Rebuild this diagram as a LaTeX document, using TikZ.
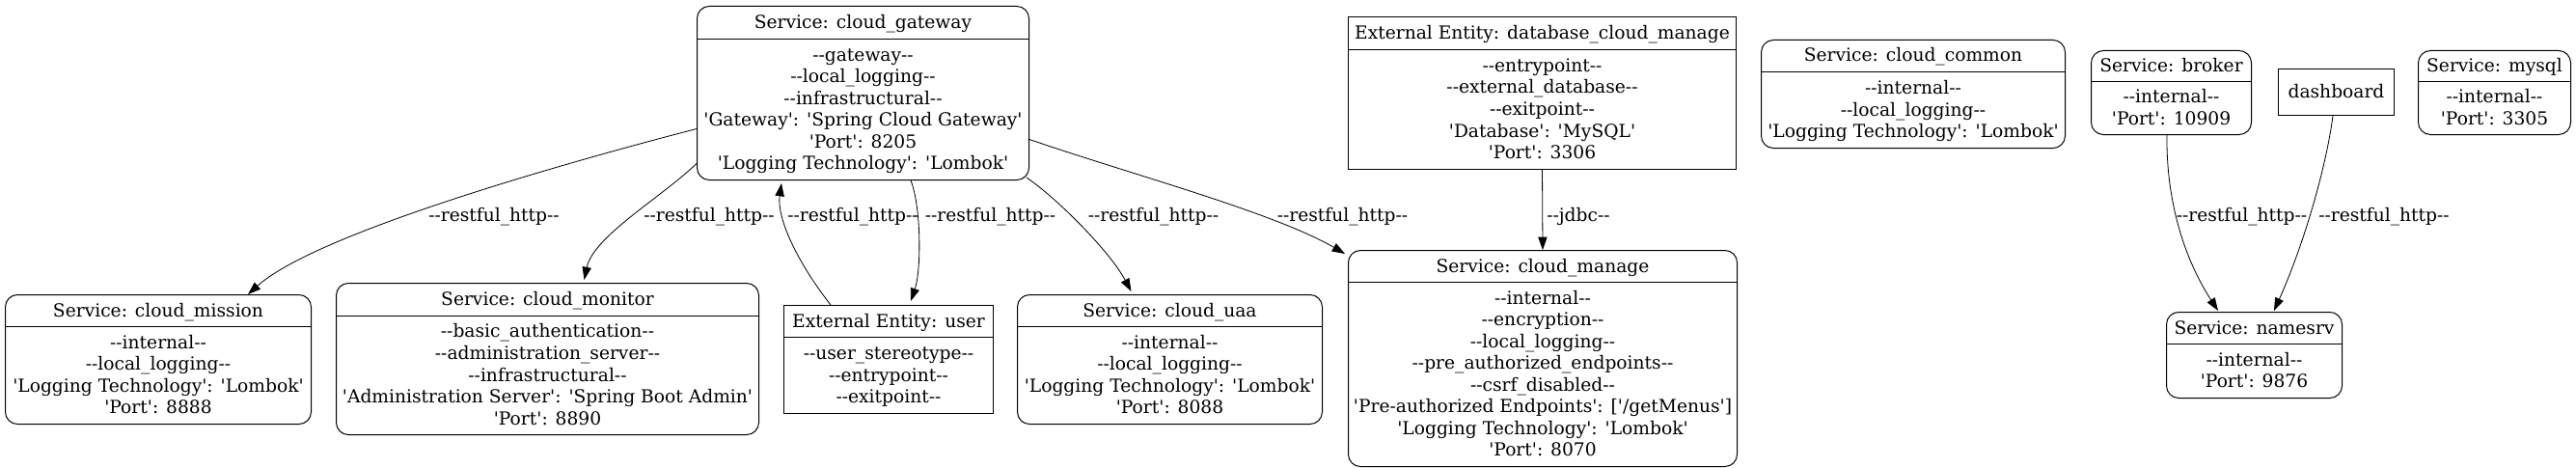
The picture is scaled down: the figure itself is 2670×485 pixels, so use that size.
\documentclass[tikz,border=0pt]{standalone}
\usepackage{fontspec}
\setmainfont{DejaVu Serif}[Ligatures=TeXOff]
\usetikzlibrary{arrows.meta,calc,fit}
\newcommand\ls{\rule[-3.95pt]{0pt}{16.9pt}}
\newcommand\mkbox[9]{%
  \node[#2, fit={(#3,#4)(#5,#6)}] (#1) {};
  \draw[boxline] (#3,#7) -- (#5,#7);
  \node[txt] (#1-t) at ($(#3,#4)!0.5!(#5,#7)$) {\ls #8};
  \node[txt] (#1-b) at ($(#3,#7)!0.5!(#5,#6)$) {#9};
}
\tikzset{
  every node/.style={font=\fontsize{14pt}{16.9pt}\selectfont},
  svc/.style={draw, line width=0.75pt, rounded corners=9.5pt, inner sep=0pt},
  ent/.style={draw, line width=0.75pt, inner sep=0pt},
  boxline/.style={line width=0.75pt},
  txt/.style={inner sep=0pt, align=center},
  edge/.style={line width=0.6pt, -{Triangle[length=10pt,width=7pt]}},
  lbl/.style={inner sep=0pt}
}
\begin{document}
\begin{tikzpicture}[x=0.75pt, y=-0.75pt]
\useasboundingbox (0,0) rectangle (2670,485);

\mkbox{gw}{svc}{722.5}{6.5}{1066.5}{186.5}{40.5}{Service: cloud\_gateway}{\ls --gateway--\\\ls --local\_logging--\\\ls --infrastructural--\\\ls 'Gateway': 'Spring Cloud Gateway'\\\ls 'Port': 8205\\\ls 'Logging Technology': 'Lombok'}

\mkbox{cmis}{svc}{5.5}{305.5}{322.5}{439.5}{338.5}{Service: cloud\_mission}{\ls --internal--\\\ls --local\_logging--\\\ls 'Logging Technology': 'Lombok'\\\ls 'Port': 8888}

\mkbox{cmon}{svc}{348.5}{293.5}{786.5}{450.5}{327.5}{Service: cloud\_monitor}{\ls --basic\_authentication--\\\ls --administration\_server--\\\ls --infrastructural--\\\ls 'Administration Server': 'Spring Boot Admin'\\\ls 'Port': 8890}

\mkbox{user}{ent}{812.5}{316.5}{1029.5}{428.5}{349.5}{External Entity: user}{\ls --user\_stereotype--\\\ls --entrypoint--\\\ls --exitpoint--}

\mkbox{uaa}{svc}{1054.5}{305.5}{1370.5}{439.5}{338.5}{Service: cloud\_uaa}{\ls --internal--\\\ls --local\_logging--\\\ls 'Logging Technology': 'Lombok'\\\ls 'Port': 8088}

\mkbox{mng}{svc}{1397.5}{259.5}{1800.5}{483.5}{292.5}{Service: cloud\_manage}{\ls --internal--\\\ls --encryption--\\\ls --local\_logging--\\\ls --pre\_authorized\_endpoints--\\\ls --csrf\_disabled--\\\ls 'Pre-authorized Endpoints': ['/getMenus']\\\ls 'Logging Technology': 'Lombok'\\\ls 'Port': 8070}

\mkbox{db}{ent}{1397.5}{17.5}{1799.5}{175.5}{51.5}{External Entity: database\_cloud\_manage}{\ls --entrypoint--\\\ls --external\_database--\\\ls --exitpoint--\\\ls 'Database': 'MySQL'\\\ls 'Port': 3306}

\mkbox{com}{svc}{1825.5}{41.5}{2140.5}{153.5}{74.5}{Service: cloud\_common}{\ls --internal--\\\ls --local\_logging--\\\ls 'Logging Technology': 'Lombok'}

\mkbox{brk}{svc}{2167.5}{52.5}{2333.5}{139.5}{84.5}{Service: broker}{\ls --internal--\\\ls 'Port': 10909}

\node[ent, fit={(2361.5,71.5)(2481.5,119.5)}] (dash) {};
\node[txt] (dash-t) at (dash.center) {\ls dashboard};

\mkbox{mysql}{svc}{2506.5}{52.5}{2664.5}{139.5}{84.5}{Service: mysql}{\ls --internal--\\\ls 'Port': 3305}

\mkbox{nms}{svc}{2245.5}{323.5}{2427.5}{412.5}{356.5}{Service: namesrv}{\ls --internal--\\\ls 'Port': 9876}

% edges
\draw[edge] ($(gw.west)+(0,37)$) .. controls (600,165) and (330,240) .. ($(cmis.north)+(93,0)$);
\draw[edge] ($(gw.west)+(0,73)$) .. controls (685,205) and (615,245) .. ($(cmon.north)+(38,-3)$);
\draw[edge] ($(user.north)+(-60,0)$) .. controls (825,270) and (805,225) .. ($(gw.south)+(-84.5,3)$);
\draw[edge] ($(gw.south)+(49.5,0)$) .. controls (955,215) and (955,280) .. ($(user.north)+(23,-4)$);
\draw[edge] ($(gw.south east)+(-3,-3)$) .. controls (1095,205) and (1150,260) .. ($(uaa.north)+(-40,-3)$);
\draw[edge] ($(gw.east)+(0,48)$) .. controls (1170,180) and (1320,220) .. ($(mng.north west)+(-3,4)$);
\draw[edge] (db.south) -- (mng.north);
\draw[edge] ($(brk.south)+(-4.5,0)$) .. controls (2245,210) and (2265,270) .. ($(nms.north)+(-37.5,-1)$);
\draw[edge] ($(dash.south)+(-3.5,0)$) .. controls (2410,180) and (2385,260) .. ($(nms.north)+(20.5,-1)$);

% labels
\node[lbl] (l1) at (512,223) {\ls --restful\_http--};
\node[lbl] (l2) at (735,223) {\ls --restful\_http--};
\node[lbl] (l3) at (884,223) {\ls --restful\_http--};
\node[lbl] (l4) at (1026.5,223) {\ls --restful\_http--};
\node[lbl] (l5) at (1195.5,223) {\ls --restful\_http--};
\node[lbl] (l6) at (1391.5,223) {\ls --restful\_http--};
\node[lbl] (l7) at (1636,223) {\ls --jdbc--};
\node[lbl] (l8) at (2323.5,223) {\ls --restful\_http--};
\node[lbl] (l9) at (2471,223) {\ls --restful\_http--};
\end{tikzpicture}
\end{document}
